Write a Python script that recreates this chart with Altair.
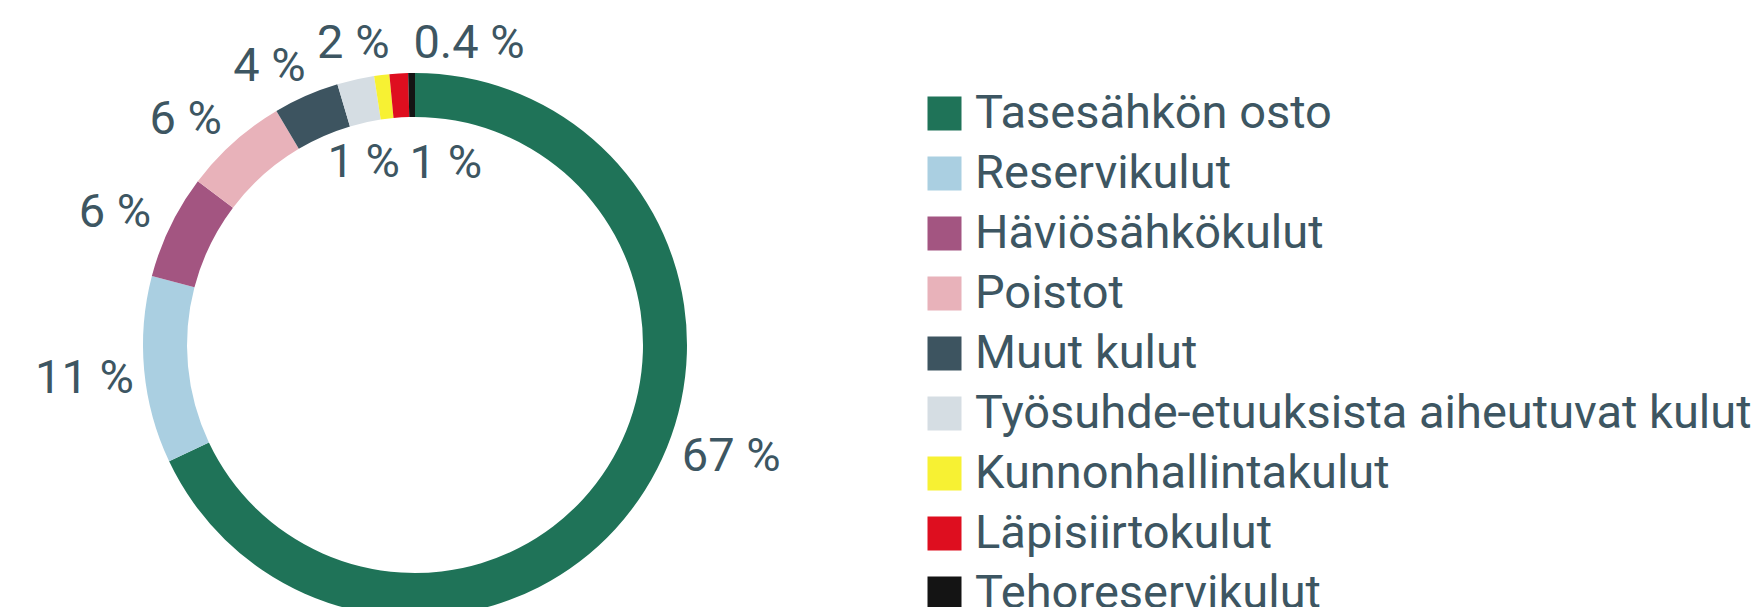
import altair as alt
import pandas as pd

# ---- data -------------------------------------------------------------
categories = [
    "Tasesähkön osto",
    "Reservikulut",
    "Häviösähkökulut",
    "Poistot",
    "Muut kulut",
    "Työsuhde-etuuksista aiheutuvat kulut",
    "Kunnonhallintakulut",
    "Läpisiirtokulut",
    "Tehoreservikulut",
]
shares = [67.9, 11.1, 6.2, 6.2, 3.9, 2.2, 0.9, 1.1, 0.4]
labels = ["67 %", "11 %", "6 %", "6 %", "4 %", "2 %", "1 %", "1 %", "0.4 %"]

# ---- styles -----------------------------------------------------------
slice_colors = ["#1f7358", "#aacfe1", "#a35581", "#e8b2ba", "#3d5460",
                "#d5dde3", "#f7f133", "#de0e1f", "#141414"]
TEXT_COLOR = "#3d5662"
FONT = "Roboto"
FS = 47

# label placement per slice: (radius, dx, dy)
label_layout = [
    (334, 34, -67),
    (333, 1, 3),
    (329, -4, 11),
    (323, -14, 16),
    (316, -19, 12),
    (310, 6, 2),
    (191, -28, 8),
    (187, 42, 6),
    (309, 58, 8),
]

df = pd.DataFrame({
    "idx": list(range(len(categories))),
    "cat": categories,
    "share": shares,
    "label": labels,
})

arcs = alt.Chart(df).mark_arc(outerRadius=272, innerRadius=228, strokeWidth=0).encode(
    theta=alt.Theta("share:Q", stack=True),
    order=alt.Order("idx:Q"),
    color=alt.Color(
        "cat:N",
        scale=alt.Scale(domain=categories, range=slice_colors),
        legend=alt.Legend(
            orient="none", legendX=913, legendY=82, title=None,
            symbolType="square", symbolSize=1156, symbolStrokeWidth=0,
            symbolOpacity=1, labelFontSize=FS, labelFont=FONT,
            labelColor=TEXT_COLOR, labelOffset=7, rowPadding=12,
            labelLimit=0, padding=0,
        ),
    ),
)

text_layers = []
for i, (r, dx, dy) in enumerate(label_layout):
    t = alt.Chart(df).transform_window(
        cum="sum(share)", frame=[None, 0], sort=[alt.SortField("idx")]
    ).transform_calculate(
        mid="datum.cum - datum.share / 2"
    ).transform_filter(
        f"datum.idx == {i}"
    ).mark_text(
        radius=r, dx=dx, dy=dy, font=FONT, fontSize=FS,
        color=TEXT_COLOR, align="center", baseline="middle",
    ).encode(
        theta=alt.Theta("mid:Q", stack=None),
        text="label:N",
    )
    text_layers.append(t)

chart = alt.layer(arcs, *text_layers).properties(
    width=814, height=674, padding=0
).configure_view(stroke=None).configure(background="white")

chart.save("out.html", embed_options={"renderer": "svg", "actions": False})
